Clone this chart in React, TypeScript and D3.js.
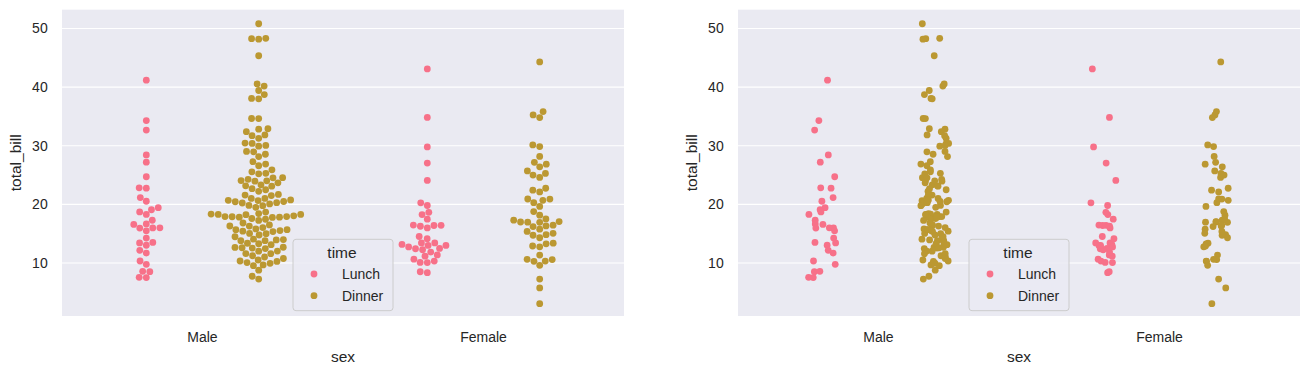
import React from 'react';
import * as d3 from 'd3';

// ---- data (seaborn "tips": total_bill by sex and time) ----
const sexCategories = ['Male', 'Female'];
const timeLevels = ['Lunch', 'Dinner'];
const yTicks = [10, 20, 30, 40, 50];
const palette = ['#f77189', '#bb9832'];

const maleLunch = [27.2, 22.76, 17.29, 19.44, 16.66, 32.68, 15.98, 13.03, 18.28, 24.71, 21.16, 11.69, 14.26, 15.95, 8.52, 22.82, 19.08, 16.0, 34.3, 41.19, 9.78, 7.51, 28.44, 15.48, 16.58, 7.56, 10.34, 13.51, 18.71, 20.53, 12.16, 8.58, 13.42];
const maleDinner = [10.34, 21.01, 23.68, 25.29, 8.77, 26.88, 15.04, 14.78, 10.27, 15.42, 18.43, 21.58, 16.29, 20.65, 17.92, 39.42, 19.82, 17.81, 13.37, 12.69, 21.7, 9.55, 18.35, 17.78, 24.06, 16.31, 18.69, 31.27, 16.04, 17.46, 13.94, 9.68, 30.4, 18.29, 22.23, 32.4, 28.55, 18.04, 12.54, 9.94, 25.56, 19.49, 38.01, 11.24, 48.27, 20.29, 13.81, 11.02, 18.29, 17.59, 20.08, 20.23, 15.01, 12.02, 10.51, 17.92, 28.97, 22.49, 40.17, 27.28, 12.03, 21.01, 12.46, 15.36, 20.49, 25.21, 18.24, 14.0, 38.07, 23.95, 29.93, 14.07, 13.13, 17.26, 24.55, 19.77, 48.17, 16.49, 21.5, 12.66, 13.81, 24.52, 20.76, 31.71, 50.81, 15.81, 7.25, 31.85, 16.82, 32.9, 17.89, 14.48, 34.63, 34.65, 23.33, 45.35, 23.17, 40.55, 20.69, 30.46, 23.1, 15.69, 26.59, 38.73, 24.27, 30.06, 25.89, 48.33, 28.15, 11.59, 7.74, 20.45, 13.28, 24.01, 15.69, 11.61, 10.77, 15.53, 10.07, 12.6, 32.83, 29.03, 22.67, 17.82];
const femaleLunch = [10.07, 34.83, 10.65, 12.43, 24.08, 13.42, 12.48, 29.8, 14.52, 11.38, 20.27, 11.17, 12.26, 18.26, 8.51, 10.33, 14.15, 13.16, 17.47, 27.05, 16.43, 8.35, 18.64, 11.87, 19.81, 43.11, 13.0, 12.74, 13.0, 16.4, 16.47, 13.42, 15.98, 16.27, 10.09];
const femaleDinner = [16.99, 24.59, 35.26, 14.83, 10.33, 16.97, 20.29, 15.77, 19.65, 15.06, 20.69, 16.93, 10.29, 34.81, 26.41, 16.45, 3.07, 17.07, 26.86, 25.28, 14.73, 5.75, 16.32, 22.75, 11.35, 15.38, 44.3, 22.42, 20.92, 14.31, 7.25, 25.71, 17.31, 29.85, 25.0, 13.39, 16.21, 17.51, 10.59, 10.63, 9.6, 20.9, 18.15, 12.76, 13.27, 28.17, 12.9, 30.14, 22.12, 35.83, 27.18, 18.78];

const groups = [
  { sex: 0, time: 0, values: maleLunch },
  { sex: 0, time: 1, values: maleDinner },
  { sex: 1, time: 0, values: femaleLunch },
  { sex: 1, time: 1, values: femaleDinner },
];

// ---- layout ----
const W = 1311, H = 375;
const TOP = 9.67, BOTTOM = 316;
const panels = [
  { x0: 62, x1: 624, kind: 'swarm' },
  { x0: 738, x1: 1300, kind: 'strip' },
];
const R = 3.4;
const FONT = '"Liberation Sans", Arial, Helvetica, sans-serif';
const TXT = '#262626';
const BG = '#eaeaf2';

type P = { x: number; u: number; r: number };

function beeswarm(values: number[], cx: number, yScale: (v: number) => number, r: number) {
  const pts: P[] = values.map((v) => ({ x: cx, u: -yScale(v), r }));
  pts.sort((a, b) => a.u - b.u);
  const mid = cx;
  const out: P[] = [pts[0]];
  for (let i = 1; i < pts.length; i++) {
    const p = pts[i];
    const neighbors: P[] = [];
    for (let j = out.length - 1; j >= 0; j--) {
      const q = out[j];
      if (p.u - q.u < p.r + q.r) neighbors.push(q);
      else break;
    }
    neighbors.reverse();
    const cands: P[] = [{ x: p.x, u: p.u, r: p.r }];
    let leftFirst = true;
    for (const q of neighbors) {
      const dy = p.u - q.u;
      const dx = Math.sqrt(Math.max((p.r + q.r) ** 2 - dy * dy, 0)) * 1.05;
      const cl = { x: q.x - dx, u: p.u, r: p.r };
      const cr = { x: q.x + dx, u: p.u, r: p.r };
      if (leftFirst) cands.push(cl, cr);
      else cands.push(cr, cl);
      leftFirst = !leftFirst;
    }
    const sorted = cands
      .map((c, k) => ({ c, k, off: Math.abs(c.x - mid) }))
      .sort((a, b) => a.off - b.off || a.k - b.k)
      .map((d) => d.c);
    let chosen = sorted[0];
    if (neighbors.length) {
      for (const c of sorted) {
        let ok = true;
        for (const q of neighbors) {
          const ddx = q.x - c.x, ddy = q.u - c.u;
          if (ddx * ddx + ddy * ddy < (q.r + c.r) ** 2) { ok = false; break; }
        }
        if (ok) { chosen = c; break; }
      }
    }
    out.push(chosen);
  }
  return out.map((p) => ({ cx: p.x, cy: -p.u }));
}

export default function App() {
  const yScale = d3.scaleLinear().domain([0.96, 53.21]).range([BOTTOM, TOP]);
  const rng = d3.randomLcg(0.4217);
  const jitter = d3.randomUniform.source(rng)(-0.05, 0.05);

  return (
    <svg width={W} height={H} style={{ position: 'absolute', left: 0, top: 0 }} fontFamily={FONT}>
      <rect x={0} y={0} width={W} height={H} fill="#ffffff" />
      {panels.map((pn, pi) => {
        const xScale = d3.scaleLinear().domain([-0.5, 1.5]).range([pn.x0, pn.x1]);
        const cxAx = (pn.x0 + pn.x1) / 2;
        const marks: JSX.Element[] = [];
        groups.forEach((g, gi) => {
          const center = g.sex + (g.time === 0 ? -0.2 : 0.2);
          if (pn.kind === 'swarm') {
            const pos = beeswarm(g.values, xScale(center), yScale, R);
            pos.forEach((p, k) =>
              marks.push(<circle key={`s${gi}-${k}`} cx={p.cx} cy={p.cy} r={R} fill={palette[g.time]} />)
            );
          } else {
            g.values.forEach((v, k) =>
              marks.push(
                <circle key={`j${gi}-${k}`} cx={xScale(center + jitter())} cy={yScale(v)} r={R} fill={palette[g.time]} />
              )
            );
          }
        });
        const lgW = 100, lgX = cxAx - lgW / 2, lgY = 239.3, lgH = 71.4;
        return (
          <g key={pi}>
            <rect x={pn.x0} y={TOP} width={pn.x1 - pn.x0} height={BOTTOM - TOP} fill={BG} />
            {yTicks.map((t) => (
              <g key={t}>
                <line x1={pn.x0} x2={pn.x1} y1={yScale(t)} y2={yScale(t)} stroke="#ffffff" strokeWidth={1.2} />
                <text x={pn.x0 - 14.3} y={yScale(t)} dy="0.35em" textAnchor="end" fontSize={14} fill={TXT}>
                  {t}
                </text>
              </g>
            ))}
            {marks}
            {sexCategories.map((s, si) => (
              <text key={s} x={xScale(si)} y={341.7} textAnchor="middle" fontSize={14} fill={TXT}>
                {s}
              </text>
            ))}
            <text x={cxAx} y={362.3} textAnchor="middle" fontSize={15.5} fill={TXT}>
              sex
            </text>
            <text
              transform={`translate(${pn.x0 - 41.5},${(TOP + BOTTOM) / 2}) rotate(-90)`}
              textAnchor="middle"
              fontSize={15.5}
              fill={TXT}
            >
              total_bill
            </text>
            <g>
              <rect x={lgX} y={lgY} width={lgW} height={lgH} rx={3} fill={BG} fillOpacity={0.8} stroke="#cccccc" strokeWidth={1} />
              <text x={lgX + lgW / 2 - 1} y={258.3} textAnchor="middle" fontSize={15.5} fill={TXT}>
                time
              </text>
              {timeLevels.map((t, ti) => {
                const yy = ti === 0 ? 274 : 295.7;
                return (
                  <g key={t}>
                    <circle cx={lgX + 21} cy={yy} r={R} fill={palette[ti]} />
                    <text x={lgX + 49} y={yy} dy="0.36em" fontSize={14} fill={TXT}>
                      {t}
                    </text>
                  </g>
                );
              })}
            </g>
          </g>
        );
      })}
    </svg>
  );
}
